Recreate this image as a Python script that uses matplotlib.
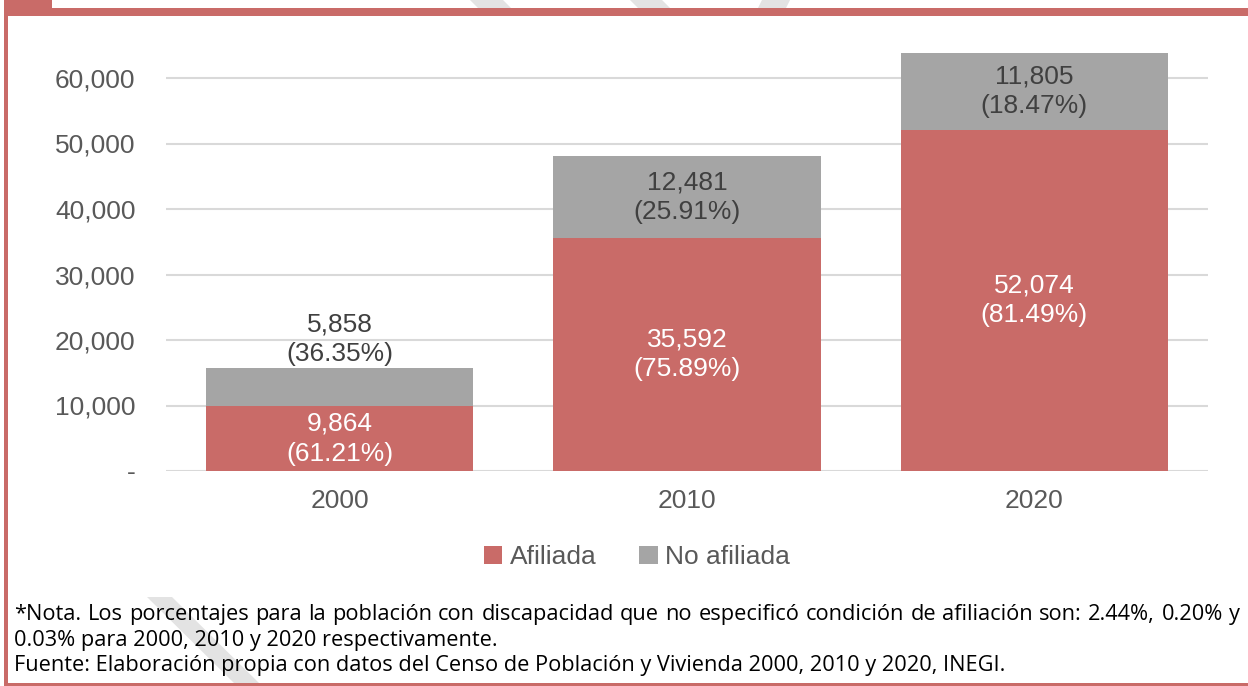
import matplotlib
matplotlib.use("Agg")
import matplotlib.pyplot as plt
from matplotlib.patches import Rectangle, Polygon

years = ["2000", "2010", "2020"]
afiliada = [9864, 35592, 52074]
no_afiliada = [5858, 12481, 11805]
pct_afiliada = ["61.21%", "75.89%", "81.49%"]
pct_no_afiliada = ["36.35%", "25.91%", "18.47%"]
yticks = [0, 10000, 20000, 30000, 40000, 50000, 60000]
ytick_labels = ["-", "10,000", "20,000", "30,000", "40,000", "50,000", "60,000"]
nota_lines = [
    "*Nota. Los porcentajes para la población con discapacidad que no especificó condición de afiliación son: 2.44%, 0.20% y",
    "0.03% para 2000, 2010 y 2020 respectivamente.",
    "Fuente: Elaboración propia con datos del Censo de Población y Vivienda 2000, 2010 y 2020, INEGI.",
]

RED = "#C96B68"
GREY = "#A5A5A5"
TXT = "#595959"
W, H = 1248, 686

fig = plt.figure(figsize=(W / 100, H / 100), dpi=100)
fig.patch.set_facecolor("white")

def px(x0, y0, w, h):
    return (x0 / W, 1 - (y0 + h) / H), w / W, h / H

# watermark stripes (faint)
wm = "#E3E3E3"
for pts in [
    [(147, 597), (172, 597), (262, 686), (237, 686)],
    [(470, 0), (503, 0), (511, 8), (478, 8)],
    [(630, 0), (662, 0), (670, 8), (638, 8)],
    [(762, 0), (790, 0), (786, 8), (758, 8)],
]:
    fig.patches.append(Polygon([(x / W, 1 - y / H) for x, y in pts], closed=True,
                               transform=fig.transFigure, facecolor=wm, edgecolor="none", zorder=0))

# red frame
for (x0, y0, w, h) in [(4, 0, 4, 686), (4, 8, 1244, 8), (4, 0, 48, 16), (4, 683, 1244, 3)]:
    xy, ww, hh = px(x0, y0, w, h)
    fig.patches.append(Rectangle(xy, ww, hh, transform=fig.transFigure,
                                 facecolor=RED, edgecolor="none", zorder=1))

ax = fig.add_axes([166 / W, 1 - 471 / H, (1208 - 166) / W, (471 - 12.5) / H])
ax.set_facecolor("none")
x = list(range(len(years)))
bw = 0.77
b1 = ax.bar(x, afiliada, width=bw, color=RED, label="Afiliada", zorder=3)
b2 = ax.bar(x, no_afiliada, width=bw, bottom=afiliada, color=GREY, label="No afiliada", zorder=3)

ax.set_xlim(-0.5, 2.5)
ax.set_ylim(0, 70000)
ax.set_yticks(yticks)
ax.set_yticklabels(ytick_labels)
ax.set_xticks(x)
ax.set_xticklabels(years)
ax.tick_params(axis="y", length=0, pad=22, labelsize=19, labelcolor=TXT)
ax.tick_params(axis="x", length=0, pad=13, labelsize=19, labelcolor=TXT)
for lbl in ax.get_xticklabels() + ax.get_yticklabels():
    lbl.set_fontfamily("Liberation Sans")
ax.grid(axis="y", color="#D9D9D9", linewidth=1.5, zorder=0)
for s in ax.spines.values():
    s.set_visible(False)

font = dict(fontsize=19, family="Liberation Sans", ha="center", va="center", linespacing=1.3)
for i in x:
    ax.text(i, afiliada[i] / 2, f"{afiliada[i]:,}\n({pct_afiliada[i]})", color="white", zorder=5, **font)
    total = afiliada[i] + no_afiliada[i]
    if no_afiliada[i] < 8000:
        ax.annotate(f"{no_afiliada[i]:,}\n({pct_no_afiliada[i]})", xy=(i, total), xytext=(0, 21),
                    textcoords="offset points", color="#404040", zorder=5, **font)
    else:
        ax.text(i, afiliada[i] + no_afiliada[i] / 2, f"{no_afiliada[i]:,}\n({pct_no_afiliada[i]})",
                color="#404040", zorder=5, **font)

leg = fig.legend(handles=[b1, b2], loc="center", bbox_to_anchor=(637 / W, 1 - 557 / H), ncol=2,
                 frameon=False, handlelength=0.7, handleheight=0.7, handletextpad=0.3,
                 columnspacing=1.6, prop={"family": "Liberation Sans", "size": 19})
for t in leg.get_texts():
    t.set_color(TXT)

# notes: first line justified between x=14 and x=1240
note_font = dict(fontsize=15.7, family="Open Sans", color="black", va="baseline")
baselines = [620, 646, 671.5]
fig.canvas.draw()
renderer = fig.canvas.get_renderer()
words = nota_lines[0].split(" ")
wtexts = [fig.text(0, 1 - baselines[0] / H, w, ha="left", **note_font) for w in words]
widths = [t.get_window_extent(renderer).width for t in wtexts]
left, right = 14, 1240
gap = (right - left - sum(widths)) / (len(words) - 1)
cx = left
for t, wdt in zip(wtexts, widths):
    t.set_x(cx / W)
    cx += wdt + gap
for line, yb in zip(nota_lines[1:], baselines[1:]):
    fig.text(left / W, 1 - yb / H, line, ha="left", **note_font)

fig.savefig("out.png", dpi=100)
